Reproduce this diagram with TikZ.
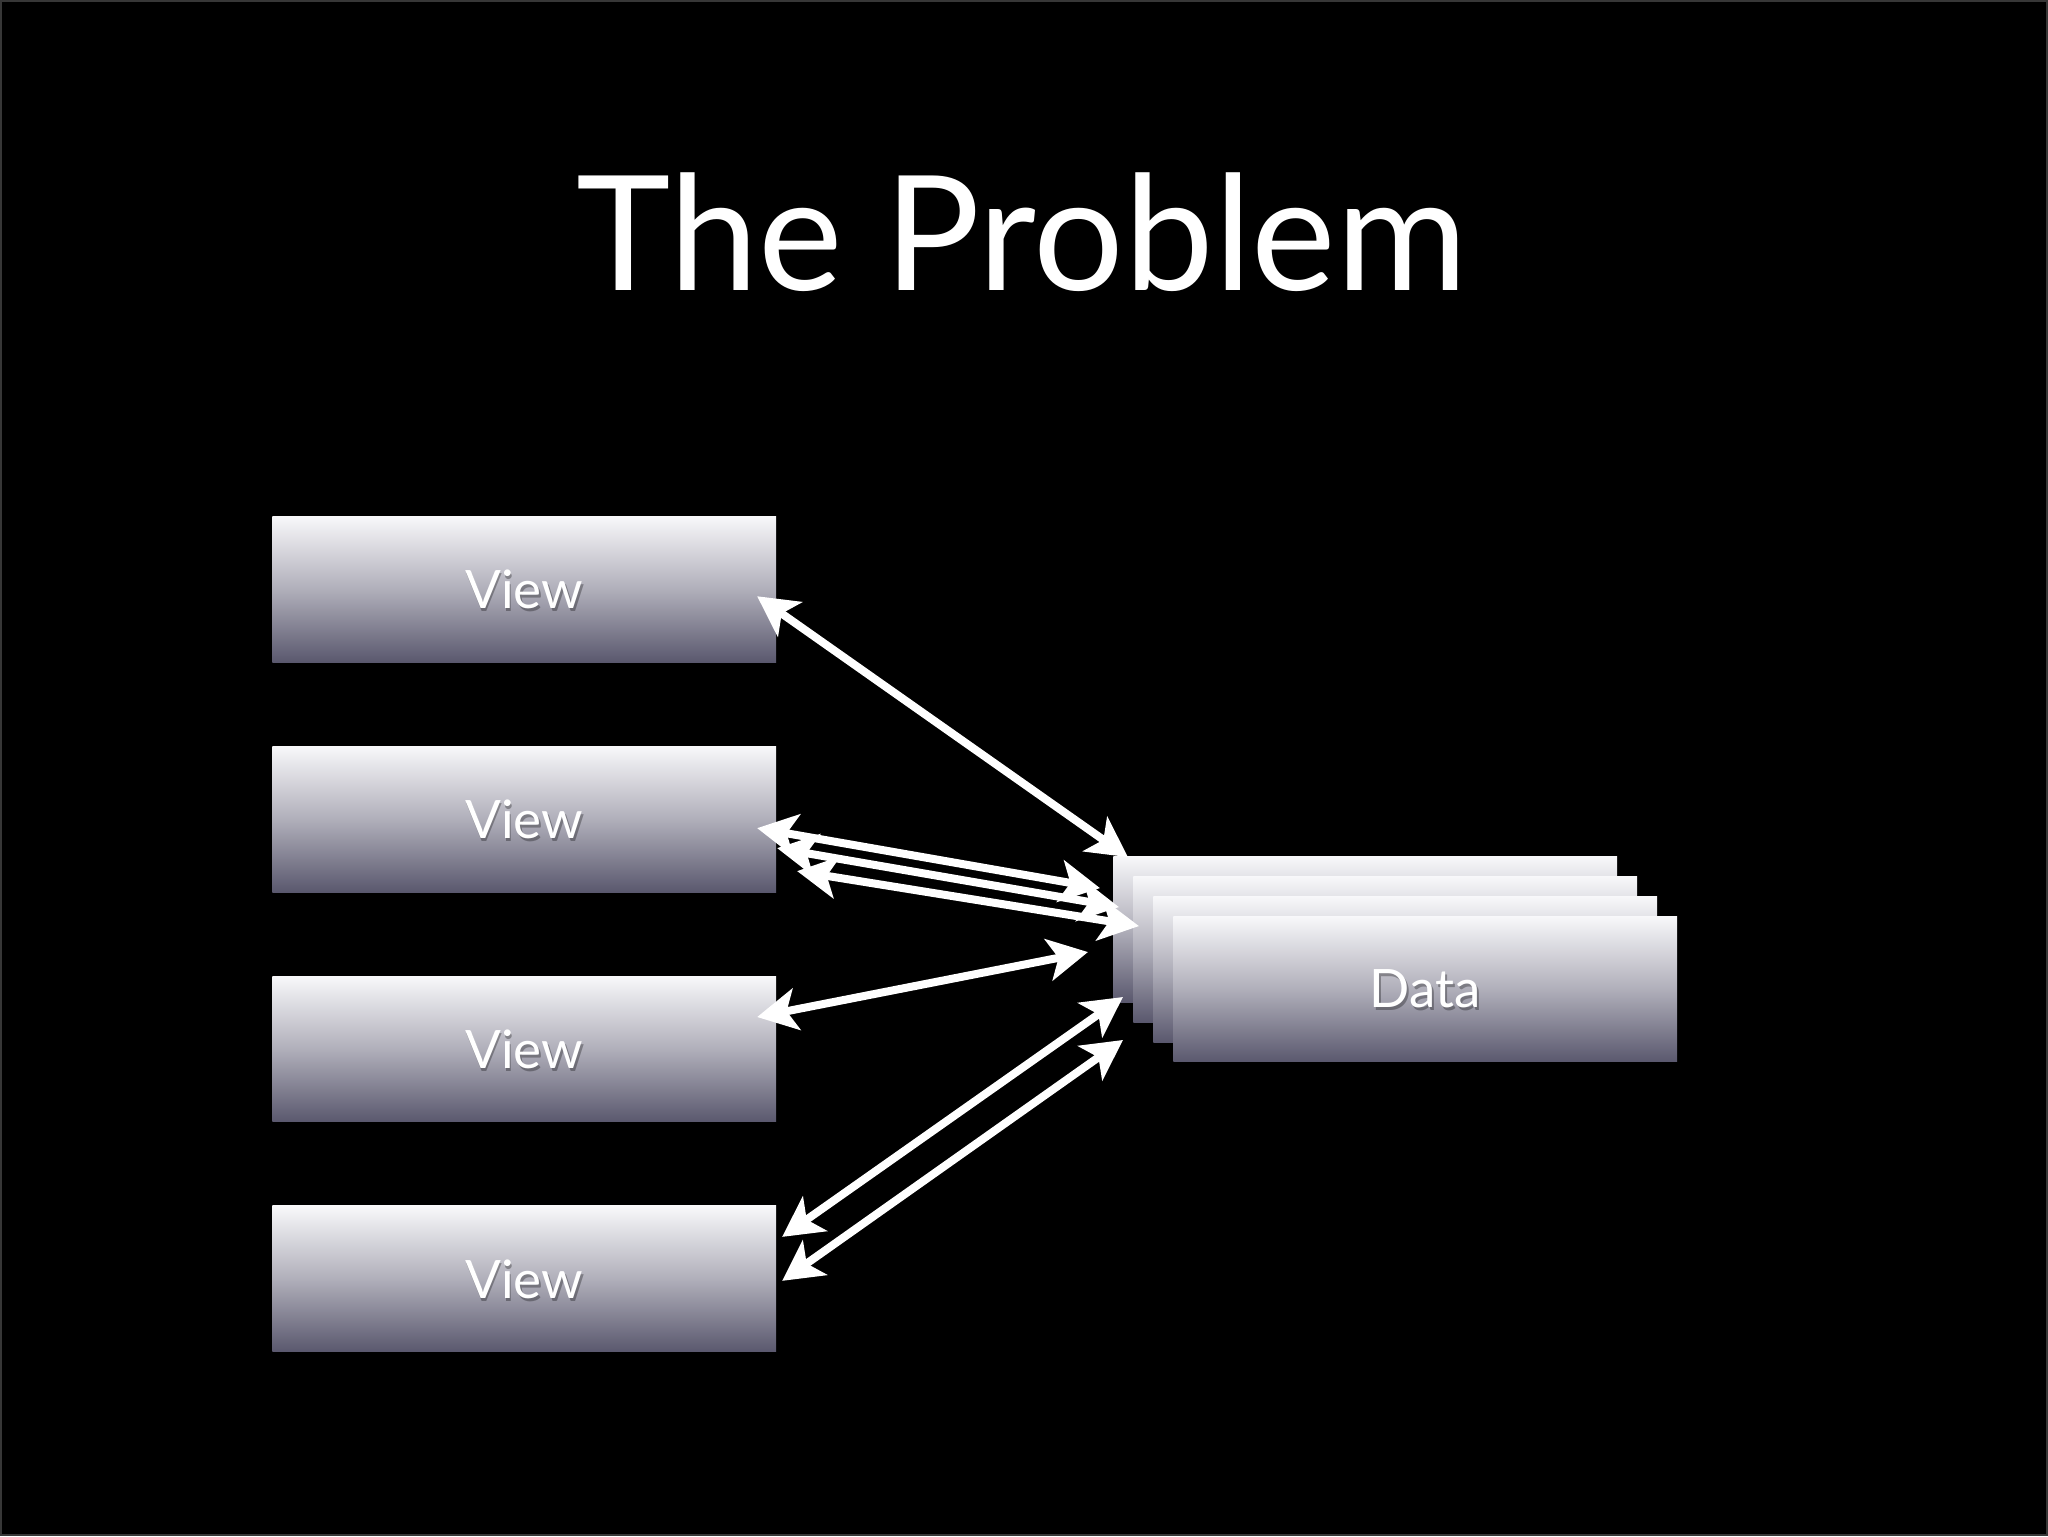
\documentclass[tikz,border=0pt]{standalone}
\usepackage{fontspec}
\setmainfont{Lato}
\usetikzlibrary{arrows.meta,shadings}
\definecolor{boxtop}{RGB}{248,248,250}
\definecolor{boxmid}{RGB}{176,175,186}
\definecolor{boxbot}{RGB}{90,88,110}
\definecolor{frame}{RGB}{55,55,55}
\tikzset{
  gradbox/.style={rectangle, inner sep=0pt, minimum width=252pt, minimum height=73pt,
    top color=boxtop, bottom color=boxbot, middle color=boxmid, draw=none},
  boxlabel/.style={text=white, font=\fontsize{26.5}{30}\selectfont},
  boxshadow/.style={text=black, opacity=0.3, font=\fontsize{26.5}{30}\selectfont},
  link/.style={draw=white, line width=4pt,
    {Stealth[length=20pt,width=21pt,inset=5pt]}-{Stealth[length=20pt,width=21pt,inset=5pt]}},
  titletext/.style={text=white, font=\fontsize{80}{90}\selectfont}
}
\begin{document}
\begin{tikzpicture}[x=0.5pt,y=-0.5pt]
\fill[black] (0,0) rectangle (2048,1536);
\draw[frame, line width=1.2pt] (0.6,0.6) rectangle (2047.4,1535.4);
\useasboundingbox (0,0) rectangle (2048,1536);

\node[titletext, anchor=base] (title) at (1022,290) {The Problem};

% view boxes
\node[gradbox] (v1) at (524,589) {};
\node[gradbox] (v2) at (524,819) {};
\node[gradbox] (v3) at (524,1049) {};
\node[gradbox] (v4) at (524,1279) {};
\foreach \n in {v1,v2,v3,v4}{
  \node[boxshadow] at ([xshift=0.8pt,yshift=-1.5pt]\n.center) {View};
  \node[boxlabel] (\n-t) at (\n.center) {View};
}

% data stack
\node[gradbox] (d1) at (1365.5,929) {};
\node[gradbox] (d2) at (1385.5,949) {};
\node[gradbox] (d3) at (1405.5,969) {};
\node[gradbox] (d4) at (1425.5,989) {};
\node[boxshadow] at ([xshift=0.8pt,yshift=-1.5pt]d4.center) {Data};
\node[boxlabel] (d4-t) at (d4.center) {Data};

% arrow end points
\coordinate (a1l) at (757,596);  \coordinate (a1r) at (1128,857);
\coordinate (a2l) at (757,828);  \coordinate (a2r) at (1100,888);
\coordinate (a3l) at (777,848);  \coordinate (a3r) at (1119,907);
\coordinate (a4l) at (797,871);  \coordinate (a4r) at (1139,926);
\coordinate (a5l) at (757,1017); \coordinate (a5r) at (1088,952);
\coordinate (a6l) at (782,1237); \coordinate (a6r) at (1123,997);
\coordinate (a7l) at (782,1281); \coordinate (a7r) at (1123,1040);

\draw[link] (a1l) -- (a1r);
\draw[link] (a2l) -- (a2r);
\draw[link] (a3l) -- (a3r);
\draw[link] (a4l) -- (a4r);
\draw[link] (a5l) -- (a5r);
\draw[link] (a6l) -- (a6r);
\draw[link] (a7l) -- (a7r);
\end{tikzpicture}
\end{document}
